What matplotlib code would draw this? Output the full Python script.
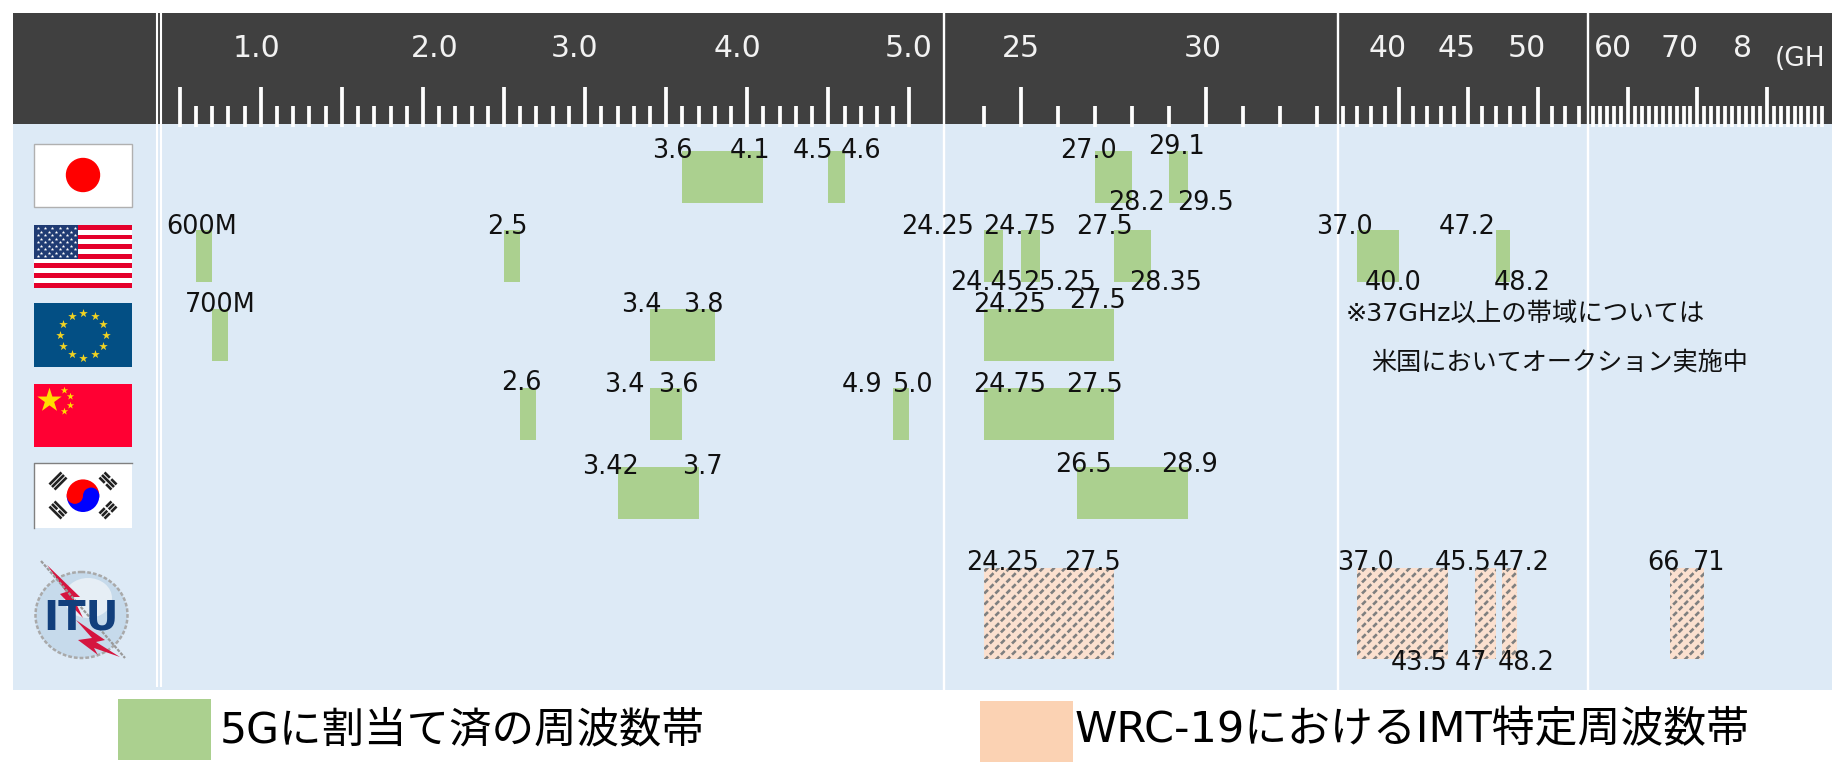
#5G frequency band allocations by country, broken ruler on top
import numpy as np
import matplotlib
matplotlib.use("Agg")
import matplotlib.pyplot as plt
from matplotlib.patches import Rectangle, Circle, Ellipse, Polygon, Wedge

plt.rcParams['font.family'] = ['DejaVu Sans', 'Noto Sans CJK JP']
plt.rcParams['hatch.linewidth'] = 1.9

# band edges as they sit on the ruler (GHz)
japan_low = [3.6, 4.5, 27.0, 29.0]
japan_high = [4.1, 4.6, 28.0, 29.5]
usa_low = [0.6, 2.5, 24.0, 25.0, 27.5, 37.0, 47.0]
usa_high = [0.7, 2.6, 24.5, 25.5, 28.5, 40.0, 48.0]
eu_low = [0.7, 3.4, 24.0]
eu_high = [0.8, 3.8, 27.5]
china_low = [2.6, 3.4, 4.9, 24.0]
china_high = [2.7, 3.6, 5.0, 27.5]
korea_low = [3.2, 26.5]
korea_high = [3.7, 29.5]
itu_low = [24.0, 37.0, 45.5, 47.45, 66.0]
itu_high = [27.5, 43.5, 47.0, 48.5, 71.0]

# ruler
major_ticks = [0.5, 1.0, 1.5, 2.0, 2.5, 3.0, 3.5, 4.0, 4.5, 5.0, 25, 30, 40, 45, 50, 60, 70, 80]
minor_ticks = ([round(0.1 * i, 1) for i in range(6, 50) if i % 5 != 0]
               + [24, 26, 27, 28, 29, 31, 32, 33]
               + [i for i in range(36, 54) if i % 5 != 0]
               + [i for i in range(55, 89) if i % 10 != 0])

# text
ruler_labels = ["1.0", "2.0", "3.0", "4.0", "5.0", "25", "30", "40", "45", "50", "60", "70", "8"]
ruler_label_x = [257, 435, 575, 737, 909, 1021, 1203, 1388, 1457, 1527, 1613, 1680, 1742]

band_labels = [
    ("3.6", 672, 150), ("4.1", 750, 150), ("4.5", 813, 150), ("4.6", 861, 150),
    ("27.0", 1088, 149), ("29.1", 1176, 145), ("28.2", 1136, 202), ("29.5", 1205, 202),
    ("600M", 202, 226), ("2.5", 507, 226), ("24.25", 938, 226), ("24.75", 1020, 226),
    ("27.5", 1104, 226), ("37.0", 1344, 226), ("47.2", 1467, 226),
    ("24.45", 987, 282), ("25.25", 1060, 282), ("28.35", 1166, 282), ("40.0", 1393, 282),
    ("48.2", 1522, 282),
    ("700M", 220, 304), ("3.4", 641, 303), ("3.8", 703, 303), ("24.25", 1010, 303),
    ("27.5", 1097, 300),
    ("2.6", 521, 382), ("3.4", 624, 383), ("3.6", 678, 383), ("4.9", 862, 383),
    ("5.0", 912, 383), ("24.75", 1010, 383), ("27.5", 1094, 383),
    ("3.42", 610, 465), ("3.7", 702, 465), ("26.5", 1083, 463), ("28.9", 1189, 463),
    ("24.25", 1003, 562), ("27.5", 1092, 562), ("37.0", 1365, 562), ("45.5", 1463, 562),
    ("47.2", 1521, 562), ("66", 1663, 562), ("71", 1709, 562),
    ("43.5", 1419, 661), ("47", 1471, 661), ("48.2", 1526, 661),
]

GREEN = "#ABD08F"
PEACH = "#FBD2B3"
PEACH_LIGHT = "#FBE0CF"
BODY = "#DDEAF6"
DARK = "#404040"

W, H = 1842, 764

# piecewise ruler: four linear pieces side by side
freq_knots = [0.36, 5.21, 22.9, 33.55, 35.58, 53.6, 54.2, 89.4]
px_knots = [157, 943.5, 943.6, 1337.5, 1337.6, 1587.7, 1587.8, 1832]


def to_px(v):
    return np.interp(v, freq_knots, px_knots)


def from_px(v):
    return np.interp(v, px_knots, freq_knots)


def px_axes(x0, y0, x1, y1, z):
    a = fig.add_axes([x0 / W, 1 - y1 / H, (x1 - x0) / W, (y1 - y0) / H], zorder=z)
    a.patch.set_alpha(0)
    a.set_axis_off()
    return a


def rect(a, x0, y0, x1, y1, **kw):
    a.add_patch(Rectangle((x0, y0), x1 - x0, y1 - y0, **kw))


def trigram(a, cx, cy, angle, breaks):
    # three bars of a Korean flag trigram
    c, s = np.cos(angle), np.sin(angle)
    for i, broken in zip((-1, 0, 1), breaks):
        px = cx + i * 3.6 * -s
        py = cy + i * 3.6 * c
        if broken:
            for sign in (-1, 1):
                a.plot([px + sign * 1 * c, px + sign * 8.5 * c],
                       [py + sign * 1 * s, py + sign * 8.5 * s], color="#222222", lw=1.9, solid_capstyle="butt")
        else:
            a.plot([px - 8.5 * c, px + 8.5 * c], [py - 8.5 * s, py + 8.5 * s],
                   color="#222222", lw=1.9, solid_capstyle="butt")


def draw_flags(a):
    # Japan
    rect(a, 34, 144, 131.5, 206.5, facecolor="white", edgecolor="#B0B0B0", lw=1)
    a.add_patch(Circle((83, 175), 16.5, color="#FF0000"))
    # USA
    rect(a, 34, 225, 132, 287.5, facecolor="white", lw=0)
    stripe = 62.5 / 13
    for i in range(0, 13, 2):
        rect(a, 34, 225 + i * stripe, 132, 225 + (i + 1) * stripe, facecolor="#E4002B", lw=0)
    rect(a, 34, 225, 78, 258.7, facecolor="#1F3B73", lw=0)
    sx, sy = [], []
    for r in range(9):
        for c in range(6 if r % 2 == 0 else 5):
            sx.append(37.5 + c * 7.4 + (0 if r % 2 == 0 else 3.7))
            sy.append(228 + r * 3.5)
    a.scatter(sx, sy, s=7, marker="*", color="white", lw=0)
    # EU
    rect(a, 34, 303, 132, 367, facecolor="#034F84", lw=0)
    ang = np.arange(12) * np.pi / 6
    a.scatter(83 + 23 * np.cos(ang), 335 + 22.5 * np.sin(ang), s=42, marker="*", color="#F2D321", lw=0)
    # China
    rect(a, 34, 384, 132, 446.5, facecolor="#FF0033", lw=0)
    a.scatter([48.7], [400], s=340, marker="*", color="#FFDD00", lw=0)
    a.scatter([63.7, 70.3, 70.3, 63.7], [390, 396, 404.7, 411.3], s=30, marker="*", color="#FFDD00", lw=0)
    # Korea
    rect(a, 34, 463, 132, 527.5, facecolor="white", lw=0)
    a.plot([34, 34, 132], [527.5, 463, 463], color="#808080", lw=1)
    cx, cy, r = 83, 495.7, 16.3
    a.add_patch(Wedge((cx, cy), r, 180, 360, color="#FF0000", lw=0))
    a.add_patch(Wedge((cx, cy), r, 0, 180, color="#0000FF", lw=0))
    a.add_patch(Circle((cx - r / 2, cy), r / 2, color="#FF0000", lw=0))
    a.add_patch(Circle((cx + r / 2, cy), r / 2, color="#0000FF", lw=0))
    d = np.pi / 4
    trigram(a, 58, 481, -d + np.pi / 2 + np.pi / 2, (0, 0, 0))
    trigram(a, 108, 481, d, (1, 0, 1))
    trigram(a, 58, 510, d, (0, 1, 0))
    trigram(a, 108, 510, -d, (1, 1, 1))
    # ITU logo
    a.add_patch(Ellipse((81.5, 615), 92, 86, facecolor="#C6DAEB", edgecolor="#A9A9A9", lw=1.8, ls=(0, (1.5, 0.8))))
    a.add_patch(Ellipse((88, 598), 48, 40, facecolor="#E6EEF5", lw=0))
    a.plot([41, 125], [561, 658], color="#9A9A9A", lw=1.6, ls=(0, (1.5, 0.6)))
    a.add_patch(Polygon([[47, 565], [66, 592], [60, 594], [83, 618], [73, 597], [80, 597]],
                        facecolor="#D5153F", lw=0))
    a.add_patch(Polygon([[76, 620], [105, 640], [96, 642], [120, 657], [94, 648], [98, 655], [78, 640], [92, 638]],
                        facecolor="#D5153F", lw=0))
    a.text(81, 619, "ITU", color="#123F7C", fontsize=29, fontweight="bold", ha="center", va="center")


fig = plt.figure(figsize=(W / 100, H / 100), dpi=100, facecolor="white")

# backdrop, flags and legend in pixel coordinates
ax_bg = px_axes(0, 0, W, H, 0)
ax_bg.set_xlim(0, W)
ax_bg.set_ylim(H, 0)
rect(ax_bg, 13, 13, 1832, 124, facecolor=DARK, lw=0)
rect(ax_bg, 13, 124, 1832, 690, facecolor=BODY, lw=0)
for lx in (156.5, 160.7):
    ax_bg.plot([lx, lx], [13, 687], color="white", lw=1.5, solid_capstyle="butt")
for lx in (943.5, 1337.5, 1587.7):
    ax_bg.plot([lx, lx], [13, 690], color="white", lw=1.7, solid_capstyle="butt")
draw_flags(ax_bg)
rect(ax_bg, 118, 699, 211, 760, facecolor=GREEN, lw=0)
rect(ax_bg, 980, 701, 1073, 761.5, facecolor=PEACH, lw=0)

# ruler ticks
ax_head = px_axes(157, 13, 1832, 124, 1)
ax_head.set_xscale('function', functions=(to_px, from_px))
ax_head.set_xlim(freq_knots[0], freq_knots[-1])
ax_head.set_ylim(124, 13)
ax_head.vlines(major_ticks, 87, 126.5, color="white", lw=2.7, clip_on=False)
ax_head.vlines(minor_ticks, 106, 126.5, color="white", lw=2.7, clip_on=False)

# bands: one row per country, ITU row is taller
ax = px_axes(157, 13, 1832, 690, 2)
ax.set_xscale('function', functions=(to_px, from_px))
ax.set_xlim(freq_knots[0], freq_knots[-1])
ax.set_ylim((690 - 177) / 79, (13 - 177) / 79)

rows = [(japan_low, japan_high), (usa_low, usa_high), (eu_low, eu_high),
        (china_low, china_high), (korea_low, korea_high)]
for i, (lo, hi) in enumerate(rows):
    ax.barh(i, np.array(hi) - np.array(lo), left=lo, height=0.66, color=GREEN, lw=0)

itu_w = np.array(itu_high) - np.array(itu_low)
ax.barh(5.53, itu_w, left=itu_low, height=1.15, color=PEACH_LIGHT, edgecolor="#7F7F7F", hatch="///", lw=0)
ax.barh(5.53, itu_w, left=itu_low, height=1.15, color="none", edgecolor=PEACH_LIGHT, hatch="\\\\\\", lw=0)

# all the text goes on top
ax_txt = px_axes(0, 0, W, H, 3)
ax_txt.set_xlim(0, W)
ax_txt.set_ylim(H, 0)
for s, lx in zip(ruler_labels, ruler_label_x):
    ax_txt.text(lx, 48.5, s, color="#F2F2F2", fontsize=21.5, ha="center", va="center")
ax_txt.text(1800, 59, "(GH", color="#F2F2F2", fontsize=19, ha="center", va="center")
for s, lx, ly in band_labels:
    ax_txt.text(lx, ly + 1.5, s, color="#111111", fontsize=18.4, ha="center", va="center")
ax_txt.text(1346, 314, "※37GHz以上の帯域については", color="#111111", fontsize=18.3, ha="left", va="center")
ax_txt.text(1371, 363, "米国においてオークション実施中", color="#111111", fontsize=18.1, ha="left", va="center")
ax_txt.text(220, 730, "5Gに割当て済の周波数帯", color="black", fontsize=30.6, ha="left", va="center")
ax_txt.text(1075, 730, "WRC-19におけるIMT特定周波数帯", color="black", fontsize=30.9, ha="left", va="center")

fig.savefig("out.png", dpi=100)
